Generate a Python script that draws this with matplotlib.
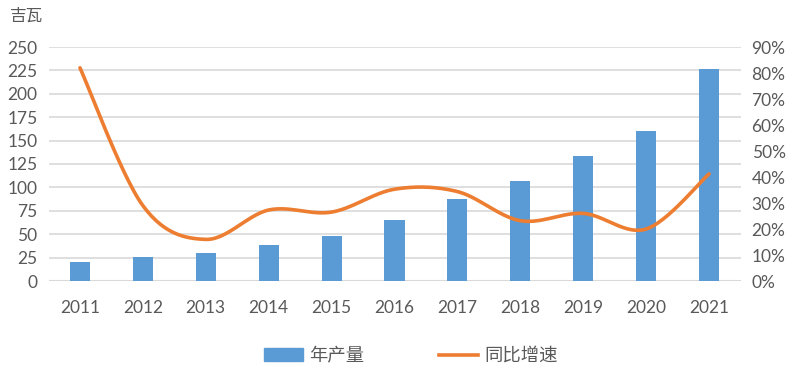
import numpy as np
import matplotlib.pyplot as plt
from matplotlib.patches import Patch
from matplotlib.lines import Line2D

plt.rcParams['font.family'] = ['Lato', 'Noto Sans CJK SC', 'DejaVu Sans']

years = ["2011", "2012", "2013", "2014", "2015", "2016", "2017", "2018", "2019", "2020", "2021"]
output_gw = [20, 26, 30, 38, 48, 65, 87.5, 107, 134, 160.5, 226.5]
growth_pct = [82, 29, 16, 27.3, 26.5, 35.3, 34.4, 23.2, 26, 20, 41.2]

BLUE = "#5B9BD5"
ORANGE = "#ED7D31"
TEXT = "#595959"
GRID = "#D9D9D9"


def smooth(x, y, n=30):
    # excel style smoothed line (bezier through the points)
    x = np.asarray(x, float)
    y = np.asarray(y, float)
    px = np.concatenate([[x[0]], x, [x[-1]]])
    py = np.concatenate([[y[0]], y, [y[-1]]])
    t = np.linspace(0, 1, n)[:, None]
    xs, ys = [], []
    for i in range(1, len(px) - 2):
        p0 = np.array([px[i], py[i]])
        p3 = np.array([px[i + 1], py[i + 1]])
        c1 = p0 + (np.array([px[i + 1], py[i + 1]]) - np.array([px[i - 1], py[i - 1]])) / 6
        c2 = p3 - (np.array([px[i + 2], py[i + 2]]) - np.array([px[i], py[i]])) / 6
        b = ((1 - t) ** 3) * p0 + 3 * ((1 - t) ** 2) * t * c1 + 3 * (1 - t) * t ** 2 * c2 + t ** 3 * p3
        xs.append(b[:, 0])
        ys.append(b[:, 1])
    return np.concatenate(xs), np.concatenate(ys)


fig = plt.figure(figsize=(8, 3.79), dpi=100)
ax = fig.add_axes([48.5 / 800, 1 - 281 / 379, 692 / 800, 234 / 379])
x = np.arange(len(years))

ax.bar(x, output_gw, width=0.32, color=BLUE, zorder=2)
ax.set_xlim(-0.5, len(years) - 0.5)
ax.set_ylim(0, 250)
ax.set_yticks(np.arange(0, 251, 25))
ax.set_xticks(x)
ax.set_xticklabels(years)
ax.grid(axis="y", color=GRID, linewidth=1.2, zorder=0)
for s in ax.spines.values():
    s.set_visible(False)
ax.axhline(0, color=GRID, linewidth=1.5, zorder=1)
ax.tick_params(axis="both", length=0, labelsize=12.5, colors=TEXT)
ax.tick_params(axis="y", pad=8)
ax.tick_params(axis="x", pad=14)

ax2 = ax.twinx()
sx, sy = smooth(x, growth_pct)
ax2.plot(sx, sy, color=ORANGE, linewidth=2.6, solid_capstyle="round", zorder=3)
ax2.set_ylim(0, 90)
ax2.set_yticks(np.arange(0, 91, 10))
ax2.set_yticklabels([f"{v}%" for v in range(0, 91, 10)])
for s in ax2.spines.values():
    s.set_visible(False)
ax2.tick_params(axis="y", length=0, labelsize=12.5, colors=TEXT, pad=8)

fig.text(10 / 800, 1 - 16 / 379, "吉瓦", fontsize=12, color=TEXT,
         family=['Noto Sans CJK SC'], va="center", ha="left")

handles = [Patch(color=BLUE), Line2D([0], [0], color=ORANGE, linewidth=2.6)]
fig.legend(handles, ["年产量", "同比增速"], loc="center", bbox_to_anchor=(411 / 800, 1 - 356 / 379),
           ncol=2, frameon=False, handlelength=2.1, handletextpad=0.35, columnspacing=4.1,
           prop={'family': ['Noto Sans CJK SC'], 'size': 13.2}, labelcolor=TEXT)

fig.savefig("out.png", dpi=100)
